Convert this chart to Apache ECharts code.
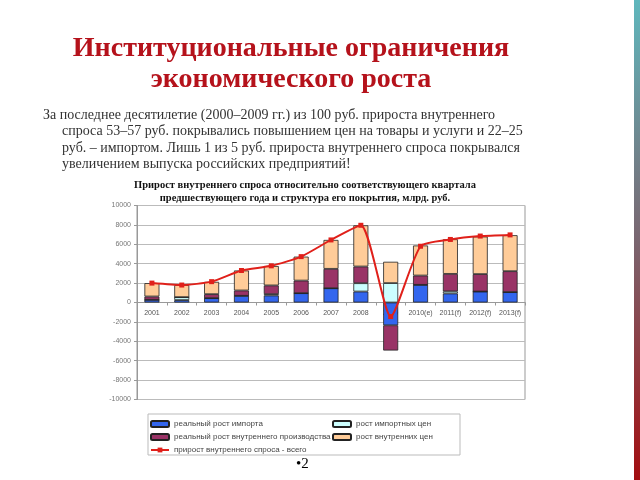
<!DOCTYPE html>
<html><head><meta charset="utf-8">
<script src="https://cdn.jsdelivr.net/npm/echarts@6/dist/echarts.min.js"></script>
<style>html,body{margin:0;padding:0;background:#fff}#c{width:640px;height:480px}</style>
</head><body><div id="c"></div>
<script>
var categories = ['2001','2002','2003','2004','2005','2006','2007','2008','2009','2010(e)','2011(f)','2012(f)','2013(f)'];
var importReal = [280, 250, 450, 690, 720, 960, 1470, 1130, -2350, 1820, 930, 1130, 1070];
var importPrices = [0, 300, 0, 0, 140, 0, 0, 860, 2000, 0, 220, 0, 0];
var domesticReal = [340, 0, 410, 550, 900, 1300, 2000, 1720, -2600, 960, 1800, 1800, 2160];
var domesticPrices = [1380, 1250, 1270, 2060, 2000, 2470, 2980, 4250, 2200, 3100, 3570, 3870, 3710];
var totalDemand = [2000, 1800, 2150, 3300, 3780, 4730, 6450, 7960, -1450, 5800, 6500, 6850, 6970];
var yTicks = [-10000, 10000, 2000];
var names = ['реальный рост импорта','рост импортных цен','реальный рост внутреннего производства','рост внутренних цен','прирост внутреннего спроса - всего'];
var bodyLines = [
 'За последнее десятилетие (2000–2009 гг.) из 100 руб. прироста внутреннего',
 'спроса 53–57 руб. покрывались повышением цен на товары и услуги и 22–25',
 'руб. – импортом. Лишь 1 из 5 руб. прироста внутреннего спроса покрывался',
 'увеличением выпуска российских предприятий!'
];

var chart = echarts.init(document.getElementById('c'), null, {renderer:'canvas'});
function bar(name, data, color){
  return {name:name, type:'bar', stack:'s', data:data, barWidth:15,
    itemStyle:{color:color, borderColor:'#222', borderWidth:0.8}};
}
var bodyGraphics = bodyLines.map(function(t,i){
  return {type:'text', left: i===0?43:62, top:108+i*16.5,
    style:{text:t, font:'14px "Liberation Serif"', fill:'#333'}};
});
chart.setOption({
  animation:false,
  title:[
    {text:'Институциональные ограничения\nэкономического роста', left:286, top:28, textAlign:'center',
     textStyle:{fontFamily:'Liberation Serif', fontWeight:'bold', fontSize:28, color:'#b5121b', lineHeight:31, align:'center'}},
    {text:'Прирост внутреннего спроса относительно соответствующего квартала\nпредшествующего года и структура его покрытия, млрд. руб.', left:300, top:174, textAlign:'center',
     textStyle:{fontFamily:'Liberation Serif', fontWeight:'bold', fontSize:10.5, color:'#111', lineHeight:13, align:'center'}}
  ],
  graphic: bodyGraphics.concat([
    {type:'rect', shape:{x:148, y:414, width:312, height:41}, style:{fill:'none', stroke:'#bbb', lineWidth:1}},
    {type:'rect', shape:{x:634, y:0, width:6, height:480},
     style:{fill:new echarts.graphic.LinearGradient(0,0,0,1,[{offset:0,color:'#5fb7bd'},{offset:0.5,color:'#7a6670'},{offset:1,color:'#a30d10'}])}},
    {type:'text', left:296, top:457, style:{text:'•2', font:'15px "Liberation Serif"', fill:'#000'}}
  ]),
  legend:[
    {data:[names[0],names[2],names[4]], orient:'vertical', left:145, top:415, itemGap:5, itemWidth:18, itemHeight:6,
     textStyle:{fontSize:8, color:'#444', fontFamily:'Liberation Sans'}},
    {data:[names[1],names[3]], orient:'vertical', left:327, top:415, itemGap:5, itemWidth:18, itemHeight:6,
     textStyle:{fontSize:8, color:'#444', fontFamily:'Liberation Sans'}}
  ],
  grid:{left:137, top:205.5, width:388, height:194, show:true, borderColor:'#999', borderWidth:1, containLabel:false},
  xAxis:{type:'category', data:categories, position:'bottom', offset:-97,
    axisLine:{onZero:false, lineStyle:{color:'#999'}},
    axisTick:{show:true, length:3, lineStyle:{color:'#999'}},
    axisLabel:{fontSize:7, color:'#555', margin:7, interval:0, fontFamily:'Liberation Sans'}},
  yAxis:{type:'value', min:yTicks[0], max:yTicks[1], interval:yTicks[2],
    axisLine:{show:true, lineStyle:{color:'#999'}},
    axisTick:{show:true, length:3, lineStyle:{color:'#999'}},
    splitLine:{lineStyle:{color:'#bbb'}},
    axisLabel:{fontSize:7, color:'#777', margin:6, fontFamily:'Liberation Sans', formatter:function(v){return String(v);}}},
  series:[
    bar(names[0], importReal, '#3366ee'),
    bar(names[1], importPrices, '#ccffff'),
    bar(names[2], domesticReal, '#993366'),
    bar(names[3], domesticPrices, '#ffcc99'),
    {name:names[4], type:'line', data:totalDemand, smooth:0.2, symbol:'rect', symbolSize:5,
     lineStyle:{color:'#e0201a', width:2}, itemStyle:{color:'#e0201a'}, z:5}
  ]
});
</script></body></html>
